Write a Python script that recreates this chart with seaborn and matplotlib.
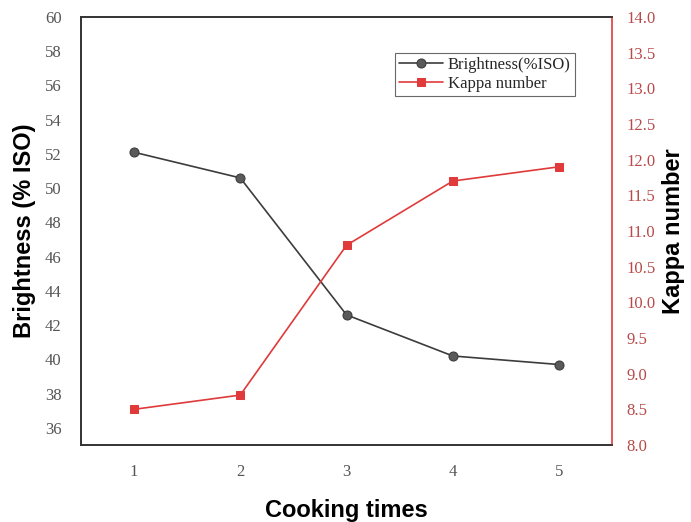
import matplotlib
matplotlib.use("Agg")
import matplotlib.pyplot as plt
import seaborn as sns
import pandas as pd

# ============================ DATA ============================
cooking_times = [1, 2, 3, 4, 5]
brightness = [52.1, 50.6, 42.6, 40.2, 39.7]
kappa = [8.5, 8.7, 10.8, 11.7, 11.9]

df = pd.DataFrame({"times": cooking_times, "brightness": brightness, "kappa": kappa})

# ============================ STYLE ============================
sns.set_style("white")
serif = ["Liberation Serif", "DejaVu Serif"]
sans = ["Liberation Sans", "DejaVu Sans"]
gray_line = "#3c3c3c"
red = "#e03a3a"
red_tick = "#b84a4a"

fig = plt.figure(figsize=(6.91, 5.22), dpi=100)
ax = fig.add_axes([0.117, 0.1475, 0.769, 0.82])
ax2 = ax.twinx()

sns.lineplot(data=df, x="times", y="brightness", ax=ax, color=gray_line, lw=1.2,
             marker="o", markersize=6.5, markerfacecolor="#5a5a5a",
             markeredgecolor="#3a3a3a", label="Brightness(%ISO)", legend=False)
sns.lineplot(data=df, x="times", y="kappa", ax=ax2, color=red, lw=1.2,
             marker="s", markersize=6, markerfacecolor=red,
             markeredgecolor=red, label="Kappa number", legend=False)

ax.set_xlim(0.5, 5.5)
ax.set_ylim(35, 60)
ax2.set_ylim(8, 14)
ax.set_xticks(cooking_times)
ax.set_yticks(range(36, 61, 2))
ax2.set_yticks([8 + 0.5 * i for i in range(13)])
ax2.set_yticklabels([f"{8 + 0.5 * i:.1f}" for i in range(13)])

ax.tick_params(axis="both", length=0, pad=14, labelsize=12, labelcolor="#555555")
ax.tick_params(axis="x", pad=14)
ax2.tick_params(axis="y", length=0, pad=10, labelsize=12, labelcolor=red_tick)
for lab in ax.get_xticklabels() + ax.get_yticklabels() + ax2.get_yticklabels():
    lab.set_family(serif)

ax.set_xlabel("Cooking times", fontsize=17, fontweight="bold", family=sans,
              labelpad=13, color="black")
ax.set_ylabel("Brightness (% ISO)", fontsize=17, fontweight="bold", family=sans,
              labelpad=6, color="black")
ax2.set_ylabel("Kappa number", fontsize=17, fontweight="bold", family=sans,
               labelpad=5, color="black")

for side in ["left", "top", "bottom"]:
    ax.spines[side].set_color("#333333")
    ax.spines[side].set_linewidth(1.2)
for side in ["left", "top", "bottom"]:
    ax2.spines[side].set_color("#333333")
    ax2.spines[side].set_linewidth(1.2)
ax2.spines["right"].set_color(red)
ax2.spines["right"].set_linewidth(1.2)
ax.spines["right"].set_visible(False)

h1, l1 = ax.get_legend_handles_labels()
h2, l2 = ax2.get_legend_handles_labels()
leg = ax2.legend(h1 + h2, l1 + l2, loc="upper right", bbox_to_anchor=(0.945, 0.935),
                 prop={"family": serif, "size": 12}, frameon=True, fancybox=False,
                 handlelength=2.6, borderpad=0.25, labelspacing=0.15, handletextpad=0.3)
leg.get_frame().set_edgecolor("#444444")
leg.get_frame().set_linewidth(0.8)

fig.savefig("out.png", dpi=100, facecolor="white")
